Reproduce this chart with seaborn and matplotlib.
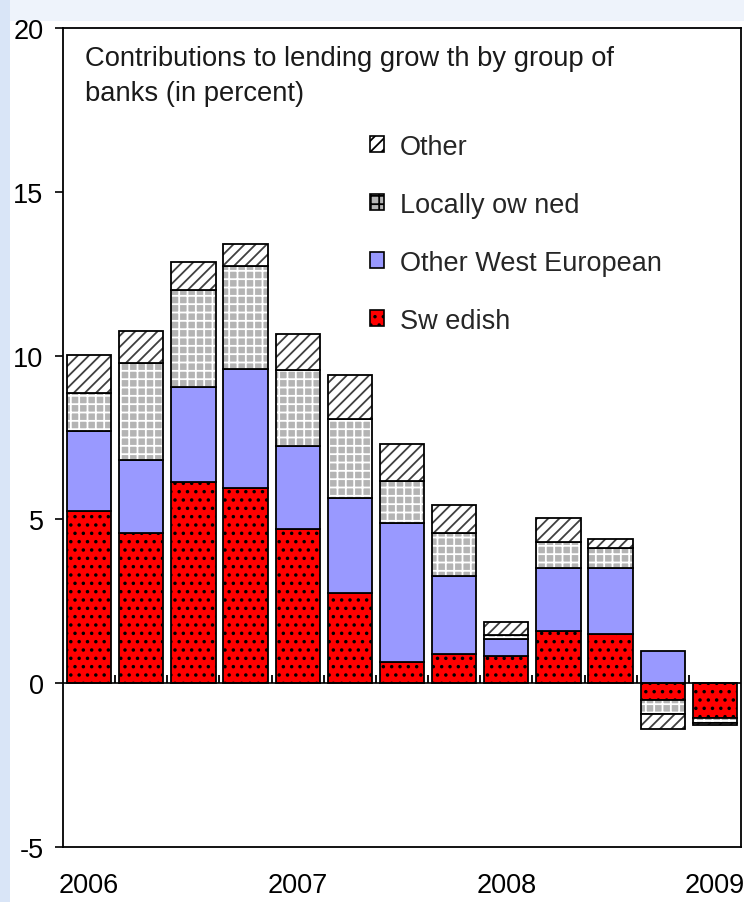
import matplotlib
matplotlib.use("Agg")
import matplotlib.pyplot as plt
from matplotlib.patches import Patch, Rectangle
import numpy as np
import seaborn as sb

# quarterly contributions to lending growth, percent
quarters = ["2006Q1", "2006Q2", "2006Q3", "2006Q4",
            "2007Q1", "2007Q2", "2007Q3", "2007Q4",
            "2008Q1", "2008Q2", "2008Q3", "2008Q4",
            "2009Q1"]
swedish = [5.25, 4.60, 6.15, 5.95, 4.70, 2.75, 0.65, 0.88, 0.84, 1.58, 1.50, -0.52, -1.05]
west_european = [2.45, 2.20, 2.90, 3.65, 2.55, 2.90, 4.25, 2.40, 0.52, 1.93, 2.03, 0.97, 0.00]
locally_owned = [1.15, 2.98, 2.95, 3.15, 2.30, 2.40, 1.27, 1.30, 0.10, 0.81, 0.61, -0.41, -0.15]
other = [1.18, 0.97, 0.87, 0.67, 1.12, 1.35, 1.12, 0.87, 0.41, 0.73, 0.26, -0.47, -0.07]

labels = ["Sw edish", "Other West European", "Locally ow ned", "Other"]
title = "Contributions to lending grow th by group of\nbanks (in percent)"

# face colour, hatch, hatch colour for each group (bottom to top)
styles = [("#ff0000", "..", "black"),
          ("#9999ff", None, "#9999ff"),
          ("#b4b4b4", "++", "white"),
          ("white", "///", "#404040")]


def stacked_bars(ax, series):
    pos = np.zeros(len(quarters))
    neg = np.zeros(len(quarters))
    for vals, (face, hatch, hcol) in zip(series, styles):
        v = np.array(vals)
        bottom = np.where(v >= 0, pos, neg)
        # fill with hatch (hatch colour follows edgecolor)
        sb.barplot(x=quarters, y=v, bottom=bottom, color=face, hatch=hatch,
                   edgecolor=hcol, linewidth=0, saturation=1, width=0.85,
                   errorbar=None, ax=ax)
        # black outline
        sb.barplot(x=quarters, y=v, bottom=bottom, fill=False, color="black",
                   linewidth=1.3, width=0.85, errorbar=None, ax=ax)
        pos = pos + np.clip(v, 0, None)
        neg = neg + np.clip(v, None, 0)


sb.set_style("ticks")
plt.rcParams["font.family"] = ["Liberation Sans", "DejaVu Sans"]
plt.rcParams["hatch.linewidth"] = 1.3
plt.rcParams["axes.unicode_minus"] = False

fig = plt.figure(figsize=(7.44, 9.03), dpi=100)
fig.patch.set_facecolor("white")
fig.patches.append(Rectangle((0, 1 - 22 / 903), 1, 22 / 903, transform=fig.transFigure,
                             facecolor="#eef3fb", edgecolor="none", zorder=-1))
fig.patches.append(Rectangle((0, 0), 10 / 744, 1, transform=fig.transFigure,
                             facecolor="#d9e5f7", edgecolor="none", zorder=-1))
ax = fig.add_subplot(1, 1, 1)
fig.subplots_adjust(left=63 / 744, right=741 / 744, top=1 - 29 / 903, bottom=1 - 848 / 903)

stacked_bars(ax, [swedish, west_european, locally_owned, other])

ax.axhline(0, color="black", linewidth=1.2, zorder=3)
ax.vlines(np.arange(len(quarters) - 1) + 0.5, 0, 0.25, color="black", linewidth=1.3, zorder=3)

ax.set_xlim(-0.5, len(quarters) - 0.5)
ax.set_ylim(-5, 20)
ax.set_yticks(range(-5, 21, 5))
year_pos = [i for i, q in enumerate(quarters) if q.endswith("Q1")]
ax.set_xticks(year_pos)
ax.set_xticklabels([quarters[i][:4] for i in year_pos])
ax.set_xlabel("")
ax.set_ylabel("")
ax.tick_params(axis="y", length=6, width=1.2, pad=8, labelsize=19.5, colors="black")
ax.tick_params(axis="x", length=0, pad=18, labelsize=19.5, colors="black")
for s in ax.spines.values():
    s.set_visible(True)
    s.set_linewidth(1.3)
    s.set_color("black")

ax.text(0.032, 0.979, title, transform=ax.transAxes, ha="left", va="top",
        fontsize=19.7, linespacing=1.45, color="#1a1a1a")

handles = []
for face, hatch, hcol in styles:
    handles.append(Patch(facecolor=face, edgecolor="black", hatch=hatch, linewidth=1.2))
ax.legend(handles[::-1], labels[::-1], loc="upper left", bbox_to_anchor=(0.453, 0.871),
          frameon=False, fontsize=19.5, handlelength=0.5, handleheight=0.5,
          handletextpad=0.6, labelspacing=1.18, borderpad=0, borderaxespad=0)

fig.savefig("out.png", dpi=100)
